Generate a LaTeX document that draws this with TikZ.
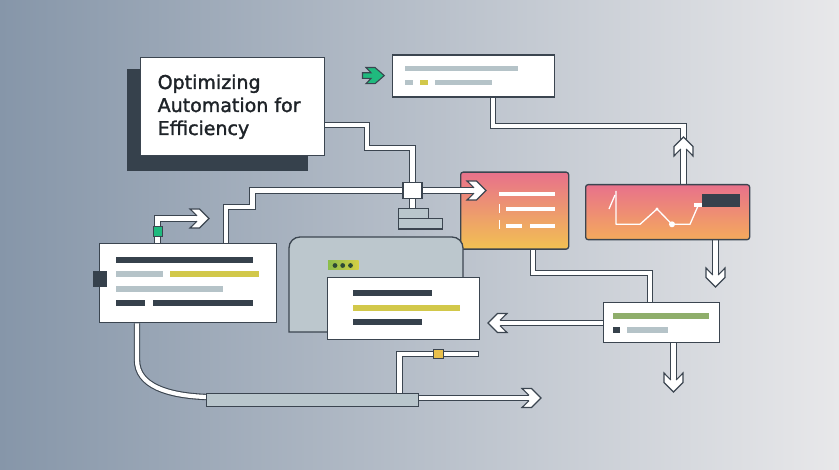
\documentclass[tikz,border=0pt]{standalone}
\usepackage{fontspec}
\setmainfont{DejaVu Sans}
\newfontfamily\ttlfont[FakeBold=1.6]{DejaVu Sans}
\definecolor{bgl}{HTML}{8696A9}
\definecolor{bgm}{HTML}{B4BEC8}
\definecolor{bgr}{HTML}{E8E8EA}
\definecolor{ink}{HTML}{36414C}
\definecolor{edge}{HTML}{3B4550}
\definecolor{barg}{HTML}{B5C3C8}
\definecolor{bary}{HTML}{D2C84A}
\definecolor{barv}{HTML}{8FAE6B}
\definecolor{grn}{HTML}{1FBA7E}
\definecolor{gold}{HTML}{E9C04C}
\definecolor{pinkA}{HTML}{E8718B}
\definecolor{orgA}{HTML}{F2C152}
\definecolor{orgB}{HTML}{F4AA5C}
\definecolor{winf}{HTML}{BCC7CD}
\definecolor{stkf}{HTML}{B9C6CC}
\definecolor{ttl}{HTML}{1E2328}
\definecolor{dotg}{HTML}{2D4A35}
\definecolor{badgeA}{HTML}{8BBD4A}
\definecolor{badgeB}{HTML}{D6CF45}
\pgfdeclarelayer{back}
\pgfdeclarelayer{pipes}
\pgfsetlayers{back,pipes,main}
\tikzset{
  box/.style={draw=edge, line width=1.3pt, fill=white, inner sep=0pt, anchor=north west},
  pipe/.style={draw=edge, line width=1.1pt, double=white, double distance=4.2pt},
  ttltext/.style={anchor=base west, inner sep=0pt, text=ttl, font=\ttlfont\fontsize{19}{22}\selectfont},
  headpic/.pic={
    \fill[white] (0,0) -- (-9.5,-9.5) -- (-19,-9.5) -- (-12,-2.6) -- (-12,2.6) -- (-19,9.5) -- (-9.5,9.5) -- cycle;
    \draw[edge, line width=1.1pt, line join=miter] (-12,-2.65) -- (-19,-9.5) -- (-9.5,-9.5) -- (0,0) -- (-9.5,9.5) -- (-19,9.5) -- (-12,2.65);
  }
}
\begin{document}
\begin{tikzpicture}[x=1pt,y=-1pt]
\useasboundingbox (0,0) rectangle (839,470);
\begin{pgfonlayer}{back}
\shade[left color=bgl, middle color=bgm, right color=bgr] (0,0) rectangle (839,470);
\end{pgfonlayer}

% ---- title box
\fill[ink] (127,69) rectangle (308,171.5);
\node[box, minimum width=184pt, minimum height=98pt] (title) at (140,57) {};
\node[ttltext] (t1) at (157.5,89) {Optimizing};
\node[ttltext] (t2) at (157.5,112) {Automation for};
\node[ttltext] (t3) at (157.5,135) {Efficiency};

% ---- top box
\node[box, minimum width=162pt, minimum height=42pt] (tbox) at (392,54.5) {};
\fill[barg] (405,65.7) rectangle (518,71.2);
\fill[barg] (405,80) rectangle (412.5,85.5);
\fill[bary] (420,80) rectangle (427.5,85.5);
\fill[barg] (435,80) rectangle (491.5,85.5);
\filldraw[fill=grn, draw=edge, line width=1.1pt, line join=miter]
  (362.5,72.8) -- (371,72.8) -- (366,67.5) -- (375,67.5) -- (384.3,75.6) -- (375,83.7) -- (366,83.7) -- (371,78.4) -- (362.5,78.4) -- cycle;

% ---- junction + stacked block
\node[box, anchor=center, minimum width=19pt, minimum height=16pt] (junc) at (412.5,190.5) {};
\node[box, fill=stkf, minimum width=30pt, minimum height=10pt] (stk1) at (397.5,208) {};
\node[box, fill=stkf, minimum width=44pt, minimum height=10.5pt] (stk2) at (397.5,218) {};

% ---- pink list box
\node[box, rounded corners=2.5pt, top color=pinkA, bottom color=orgA, minimum width=108pt, minimum height=77pt] (pbox) at (460,171.5) {};
\fill[white] (499,191.8) rectangle (555,195.8);
\draw[white, line width=1pt] (499,204) -- (499,213);
\fill[white] (506,207.5) rectangle (555,211.5);
\draw[white, line width=1pt] (499,220) -- (499,229);
\fill[white] (506,224) rectangle (522,228);
\fill[white] (530,224) rectangle (555,228);

% ---- chart box
\node[box, rounded corners=2.5pt, top color=pinkA, bottom color=orgB, minimum width=164pt, minimum height=55pt] (chart) at (585,184) {};
\draw[white, line width=1.3pt] (609,209) -- (615,195);
\draw[white, line width=1.3pt, line join=round] (616,191) -- (616,224.3) -- (640,224.3) -- (657,209) -- (672,224.3) -- (690,224.3) -- (698,206);
\fill[white] (657,209) circle (1.7pt);
\fill[white] (672,224.3) circle (3pt);
\fill[white] (694,203) rectangle (702,207.5);
\fill[ink] (702,194) rectangle (739.5,207.5);

% ---- left box
\node[box, minimum width=177pt, minimum height=79pt] (lbox) at (99,243) {};
\fill[ink] (93,271) rectangle (107,287.5);
\fill[ink] (116,257) rectangle (253,263.3);
\fill[barg] (116,271) rectangle (163,277.3);
\fill[bary] (170,271) rectangle (259,277.3);
\fill[barg] (116,286) rectangle (223,292.3);
\fill[ink] (116,300) rectangle (145,306.3);
\fill[ink] (153,300) rectangle (253,306.3);

% ---- window + middle box
\draw[draw=edge, line width=1.3pt, fill=winf] (289,332) [rounded corners=11pt] -- (289,237) -- (463,237) [sharp corners] -- (463,332) -- cycle;
\shade[left color=badgeA, right color=badgeB] (328,261) rectangle (358.5,270);
\fill[dotg] (335,265.5) circle (2.4pt);
\fill[dotg] (342.7,265.5) circle (2.4pt);
\fill[dotg] (350.5,265.5) circle (2.4pt);
\node[box, minimum width=152pt, minimum height=62pt] (mbox) at (327,277) {};
\fill[ink] (353,290) rectangle (432,296.3);
\fill[bary] (353,305) rectangle (460,311.3);
\fill[ink] (353,319) rectangle (422,325.3);

% ---- bottom right box
\node[box, minimum width=116pt, minimum height=40pt] (brbox) at (603,302) {};
\fill[barv] (613,313) rectangle (709,319.3);
\fill[ink] (613,327) rectangle (620,333);
\fill[barg] (627,327) rectangle (668,333);

% ---- bottom bar
\node[box, fill=stkf, minimum width=212pt, minimum height=13pt] (gbar) at (206,393) {};

% ---- pipes (under boxes)
\begin{pgfonlayer}{pipes}
\draw[pipe] (title.east |- 0,125) -- (367,125) -- (367,148) -| (junc.north);
\draw[pipe] (junc.west) -- (252.5,190.5) -- (252.5,207) -- (226,207) -- (226,0 |- lbox.north);
\draw[pipe] (junc.south) -- (junc.south |- stk1.north);
\draw[pipe] (493,0 |- tbox.south) -- (493,126) -- (683.5,126) -- (683.5,141);
\draw[pipe] (683.5,0 |- chart.north) -- (683.5,147);
\draw[pipe] (715.5,0 |- chart.south) -- (715.5,277);
\draw[pipe] (533,0 |- pbox.south) -- (533,273) -- (650,273) -- (650,0 |- brbox.north);
\draw[pipe] (brbox.west |- 0,323) -- (498,323);
\draw[pipe] (673.5,0 |- brbox.south) -- (673.5,382);
\draw[pipe] (157.5,0 |- lbox.north) -- (157.5,218.5) -- (199,218.5);
\draw[pipe] (137,0 |- lbox.south) -- (137,360) .. controls (137,386) and (168,395.5) .. (gbar.west |- 0,397);
\draw[pipe] (gbar.east |- 0,398) -- (531,398);
\draw[pipe, line cap=rect] (399.5,0 |- gbar.north) -- (399.5,353.8) -- (476,353.8);
\end{pgfonlayer}

% ---- overlays
\draw[pipe] ([xshift=0.6pt]junc.east) -- (476,190.5);
\pic at (486,190.5) {headpic};
\pic[rotate=90] at (683.5,137) {headpic};
\pic[rotate=-90] at (715.5,287) {headpic};
\pic[rotate=180] at (488,323) {headpic};
\pic[rotate=-90] at (673.5,392) {headpic};
\pic at (209,218.5) {headpic};
\pic at (541,398) {headpic};
\node[box, anchor=center, fill=grn, line width=1pt, minimum width=9pt, minimum height=10pt] (gsq) at (157.5,232) {};
\node[box, anchor=center, fill=gold, line width=1pt, minimum width=10pt, minimum height=9.5pt] (ysq) at (438,354) {};
\end{tikzpicture}
\end{document}
